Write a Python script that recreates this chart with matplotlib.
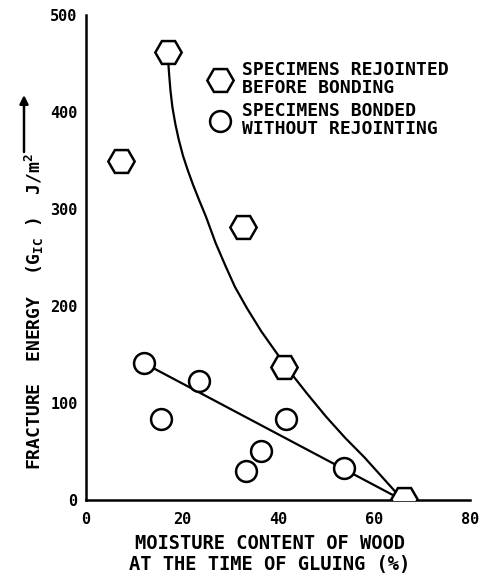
import matplotlib
matplotlib.use("Agg")
import matplotlib.pyplot as plt
from matplotlib.lines import Line2D

plt.rcParams['font.family'] = ['DejaVu Sans Mono', 'DejaVu Sans']
plt.rcParams['font.weight'] = 'bold'
plt.rcParams['mathtext.fontset'] = 'custom'
plt.rcParams['mathtext.rm'] = 'DejaVu Sans Mono:bold'
plt.rcParams['mathtext.it'] = 'DejaVu Sans Mono:bold'
plt.rcParams['mathtext.bf'] = 'DejaVu Sans Mono:bold'

# Specimens rejointed before bonding (hexagons)
rejointed_x = [7.3, 17.0, 32.7, 41.3, 66.3]
rejointed_y = [350, 462, 281, 137, 1]

# Specimens bonded without rejointing (circles)
bonded_x = [12.1, 15.6, 23.5, 33.3, 36.5, 41.7, 53.8]
bonded_y = [141, 83, 123, 30, 51, 84, 33]

# Curve through rejointed specimens
curve_x = [17.0, 17.3, 17.6, 18.0, 18.6, 19.3, 20.2, 21.2, 22.3, 23.5, 25.0,
           27.0, 29.0, 31.0, 33.5, 36.5, 39.5, 42.5, 46.0, 50.0, 54.0, 58.0,
           62.0, 66.0]
curve_y = [462, 440, 422, 405, 388, 372, 355, 340, 325, 310, 292,
           265, 242, 220, 198, 174, 153, 132, 110, 86, 64, 44,
           22, 0]

# Straight line through bonded specimens
line_x = [12.1, 65.5]
line_y = [141, 1]

xticks = [0, 20, 40, 60, 80]
yticks = [0, 100, 200, 300, 400, 500]

W, H = 484, 576
fig = plt.figure(figsize=(W/100, H/100), dpi=100)
ax = fig.add_axes([86/W, 1-500/H, 384/W, 485/H])

ax.plot(curve_x, curve_y, color='black', lw=1.6, zorder=2,
        solid_joinstyle='round')
ax.plot(line_x, line_y, color='black', lw=1.6, zorder=2)
ax.plot(rejointed_x, rejointed_y, linestyle='none', marker='H', ms=19,
        mfc='white', mec='black', mew=1.8, zorder=3)
ax.plot(bonded_x, bonded_y, linestyle='none', marker='o', ms=15,
        mfc='white', mec='black', mew=1.8, zorder=3)

ax.set_xlim(0, 80)
ax.set_ylim(0, 500)
ax.set_xticks(xticks)
ax.set_yticks(yticks)
ax.tick_params(length=0, labelsize=11, pad=6)
ax.tick_params(axis='x', pad=9)
for lab in ax.get_xticklabels() + ax.get_yticklabels():
    lab.set_fontweight('bold')

for s in ['top', 'right']:
    ax.spines[s].set_visible(False)
for s in ['left', 'bottom']:
    ax.spines[s].set_linewidth(1.8)

ax.set_xlabel('MOISTURE CONTENT OF WOOD\nAT THE TIME OF GLUING (%)',
              fontsize=13.5, fontweight='bold', linespacing=1.15)
ax.xaxis.set_label_coords((270-86)/384, (500-574)/485)
ax.xaxis.label.set_va('bottom')

# y label (rotated text) and its arrow
fig.text(34/W, 1-470/H, 'FRACTURE  ENERGY  ($\\mathrm{G_{IC}}$ )  J/m$^2$',
         rotation=90, ha='center', va='bottom', fontsize=13, fontweight='bold')
fig.add_artist(matplotlib.patches.FancyArrowPatch(
    (24/W, 1-152/H), (24/W, 1-95/H), transform=fig.transFigure,
    arrowstyle='-|>,head_length=5,head_width=2.5', color='black', lw=1.8,
    mutation_scale=1, shrinkA=0, shrinkB=0))

handles = [
    Line2D([], [], linestyle='none', marker='H', ms=19, mfc='white', mec='black', mew=1.8),
    Line2D([], [], linestyle='none', marker='o', ms=15, mfc='white', mec='black', mew=1.8),
]
labels = ['SPECIMENS REJOINTED\nBEFORE BONDING', 'SPECIMENS BONDED\nWITHOUT REJOINTING']
leg = ax.legend(handles, labels, loc='upper left', bbox_to_anchor=(0.297, 0.923),
                frameon=False, handlelength=1.2, handletextpad=0.65,
                borderpad=0, labelspacing=0.28,
                prop={'size': 13, 'weight': 'bold'})
for t in leg.get_texts():
    t.set_linespacing(1.0)

fig.savefig('out.png', dpi=100)
